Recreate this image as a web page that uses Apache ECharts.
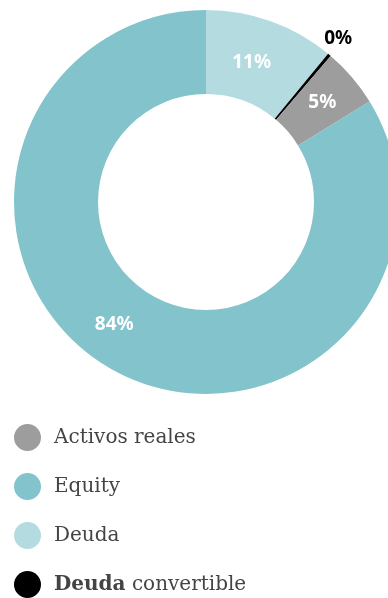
<!DOCTYPE html>
<html><head><meta charset="utf-8">
<script src="https://cdn.jsdelivr.net/npm/echarts@6/dist/echarts.min.js"></script>
<style>html,body{margin:0;padding:0;background:#fff}#c{width:388px;height:598px}</style>
</head><body><div id="c"></div>
<script>
const categories = ['Deuda', 'Deuda convertible', 'Activos reales', 'Equity'];
const values = [11, 0, 5, 84];
const colors = ['#b4dbe0', '#000000', '#9d9d9d', '#83c3cb'];
const legendOrder = ['Activos reales', 'Equity', 'Deuda', 'Deuda convertible'];
const labelOffsets = [[-6, 5], [-9, -12], [0, 0], [-17, -11]];

const chart = echarts.init(document.getElementById('c'), null, {renderer: 'canvas'});
const data = categories.map((name, i) => {
  const item = {name: name, value: values[i], itemStyle: {color: colors[i]}, label: {offset: labelOffsets[i]}};
  if (values[i] === 0) {
    item.label = {position: 'outside', color: '#000', fontWeight: 'bold', distanceToLabelLine: 0, align: 'center', offset: labelOffsets[i]};
    item.labelLine = {show: false, length: 6, length2: 0};
  }
  return item;
});
chart.setOption({
  animation: false,
  legend: {
    orient: 'vertical', left: 14, top: 424, height: 174, padding: 0,
    itemWidth: 27, itemHeight: 27, itemGap: 22,
    icon: 'circle',
    data: legendOrder,
    selectedMode: false,
    formatter: function (n) { return n === 'Deuda convertible' ? '{b|Deuda} convertible' : n; },
    textStyle: {
      fontFamily: 'DejaVu Serif', fontSize: 20, color: '#444', padding: [0, 0, 0, 8],
      rich: {b: {fontFamily: 'DejaVu Serif', fontSize: 20, fontWeight: 'bold', color: '#444'}}
    }
  },
  series: [{
    type: 'pie',
    center: [206, 202],
    radius: [108, 192],
    startAngle: 90,
    clockwise: true,
    minAngle: 1,
    avoidLabelOverlap: false,
    label: {
      show: true, position: 'inside',
      formatter: function (p) { return p.value + '%'; },
      color: '#fff', fontFamily: 'Noto Sans', fontWeight: 'bold', fontSize: 19
    },
    labelLine: {show: false},
    emphasis: {disabled: true},
    data: data
  }]
});
</script></body></html>
